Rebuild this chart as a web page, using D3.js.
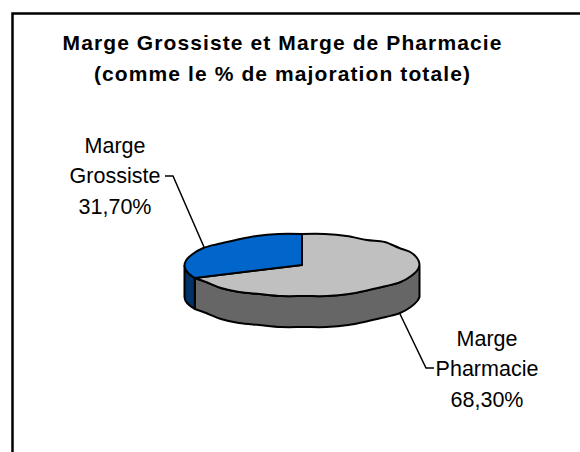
<!DOCTYPE html>
<html>
<head>
<meta charset="utf-8">
<script src="https://cdn.jsdelivr.net/npm/d3@7"></script>
<style>
html, body { margin: 0; padding: 0; background: #fff; }
svg { display: block; }
text { font-family: "Liberation Sans", Arial, sans-serif; fill: #000; }
</style>
</head>
<body>
<div id="main"></div>
<script>
var titleLines = ["Marge Grossiste et Marge de Pharmacie", "(comme le % de majoration totale)"];
var names = ["Marge Pharmacie", "Marge Grossiste"];
var values = [68.3, 31.7];
var labels = [["Marge", "Pharmacie", "68,30%"], ["Marge", "Grossiste", "31,70%"]];
var topColors = ["#c0c0c0", "#0066cc"];
var sideColors = ["#666666", "#003366"];

var w = 580, h = 452;
var cx = 302, cy = 265, rx = 117.5, ry = 31, depth = 31;

var svg = d3.select("#main").append("svg").attr("width", w).attr("height", h);

// frame runs off the right and bottom of the picture
svg.append("path")
  .attr("d", "M12.5," + h + "V13.5H" + w)
  .attr("fill", "none").attr("stroke", "#000").attr("stroke-width", 2.5);

svg.selectAll("text.title").data(titleLines).enter().append("text")
  .attr("class", "title")
  .attr("x", 282.5)
  .attr("y", function (d, i) { return 50 + i * 31; })
  .attr("text-anchor", "middle")
  .attr("font-size", 21)
  .attr("letter-spacing", 1.1)
  .attr("font-weight", "bold")
  .text(function (d) { return d; });

var pie = d3.pie().sort(null).startAngle(0).endAngle(2 * Math.PI);
var slices = pie(values);

// project an angle of the pie on the tilted ellipse
function px(a) { return cx + rx * Math.sin(a); }
function py(a) { return cy - ry * Math.cos(a); }

// the outline of the original is lumpy, y snapped to a coarse grid
var grid = 2;
function snap(v) { return Math.round(v / grid) * grid; }

function rimPoints(a0, a1, dy) {
  var n = Math.max(2, Math.ceil((a1 - a0) / 0.2));
  return d3.range(n + 1).map(function (i) {
    var a = a0 + (a1 - a0) * i / n;
    return [px(a), snap(py(a)) + dy];
  });
}

var rim = d3.line().curve(d3.curveCatmullRom);

// side wall, only the part facing us (angles between 90 and 270 deg)
slices.forEach(function (d, i) {
  var a0 = Math.max(d.startAngle, Math.PI / 2);
  var a1 = Math.min(d.endAngle, 3 * Math.PI / 2);
  if (a1 <= a0) return;
  var back = rim(rimPoints(a0, a1, depth).reverse()).replace("M", "L");
  svg.append("path")
    .attr("d", rim(rimPoints(a0, a1, 0)) + back + "Z")
    .attr("fill", sideColors[i])
    .attr("stroke", "#000").attr("stroke-width", 2).attr("stroke-linejoin", "round");
});

// top of the slices
slices.forEach(function (d, i) {
  svg.append("path")
    .attr("class", "slice")
    .attr("data-name", names[i])
    .attr("d", rim(rimPoints(d.startAngle, d.endAngle, 0)) + "L" + cx + "," + cy + "Z")
    .attr("fill", topColors[i])
    .attr("stroke", "#000").attr("stroke-width", 2).attr("stroke-linejoin", "round");
});

// leader lines
svg.append("path").attr("d", "M204,247L173,176H165").attr("fill", "none").attr("stroke", "#000").attr("stroke-width", 1.5);
svg.append("path").attr("d", "M400,314L426,368H434").attr("fill", "none").attr("stroke", "#000").attr("stroke-width", 1.5);

var labelX = [487, 115];
var labelY = [346, 153];
labels.forEach(function (lines, i) {
  lines.forEach(function (t, j) {
    svg.append("text")
      .attr("x", labelX[i])
      .attr("y", labelY[i] + j * 30.3)
      .attr("text-anchor", "middle")
      .attr("font-size", 21.5)
      .text(t);
  });
});
</script>
</body>
</html>
